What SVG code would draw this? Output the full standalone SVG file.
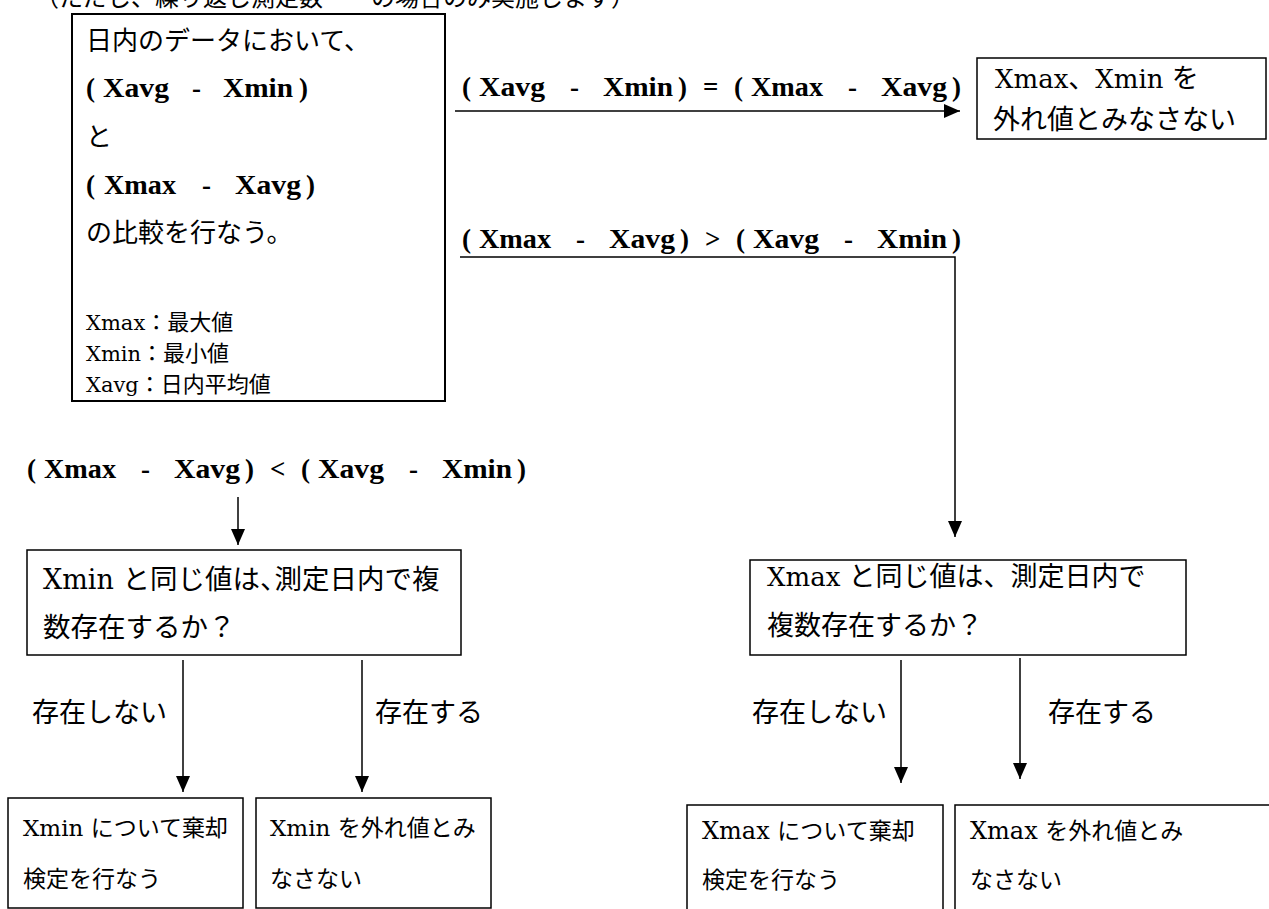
<svg xmlns="http://www.w3.org/2000/svg" width="1269" height="909" viewBox="0 0 1269 909">
<defs>
<style>
.box{fill:#fff;stroke:#000;stroke-width:1.5}
.box2{fill:#fff;stroke:#000;stroke-width:2}
.jp{font-family:"Noto Sans CJK JP","Noto Sans",sans-serif;font-size:24px;fill:#000}
.c22{font-size:22px}
.c23{font-size:23px}
.c26{font-size:26px}
.c27{font-size:27px}
.c275{font-size:27.5px}
.l{font-family:"DejaVu Serif","Liberation Serif",serif}
.b{font-family:"Liberation Serif","DejaVu Serif",serif;font-weight:bold;font-size:27px;fill:#000}
.conn{stroke:#000;stroke-width:1.5;fill:none}
</style>
<marker id="ah" markerUnits="userSpaceOnUse" markerWidth="16" markerHeight="14" refX="16" refY="7" orient="auto">
<path d="M0,0 L16,7 L0,14 z" fill="#000"/>
</marker>
</defs>
<rect width="1269" height="909" fill="#fff"/>

<text class="jp" x="35" y="6">（ただし、繰り返し測定数　　の場合のみ実施します）</text>

<g id="start">
<rect class="box2" x="72" y="14" width="373" height="387"/>
<text class="jp c26" x="86" y="50">日内のデータにおいて、</text>
<text class="b" y="97"><tspan x="86">(</tspan><tspan x="103" textLength="66" lengthAdjust="spacingAndGlyphs">Xavg</tspan><tspan x="192">-</tspan><tspan x="223" textLength="70" lengthAdjust="spacingAndGlyphs">Xmin</tspan><tspan x="299">)</tspan></text>
<text class="jp c26" x="86" y="146">と</text>
<text class="b" y="194"><tspan x="86">(</tspan><tspan x="104" textLength="72" lengthAdjust="spacingAndGlyphs">Xmax</tspan><tspan x="202">-</tspan><tspan x="235" textLength="66" lengthAdjust="spacingAndGlyphs">Xavg</tspan><tspan x="306">)</tspan></text>
<text class="jp c26" x="86" y="242">の比較を行なう。</text>
<text class="jp c22" x="86" y="330"><tspan class="l" font-size="21">Xmax</tspan>：最大値</text>
<text class="jp c22" x="86" y="361"><tspan class="l" font-size="21">Xmin</tspan>：最小値</text>
<text class="jp c22" x="86" y="392"><tspan class="l" font-size="21">Xavg</tspan>：日内平均値</text>
</g>

<g id="equal">
<rect class="box" x="977" y="58" width="289" height="81"/>
<text class="jp c27" x="995" y="88"><tspan class="l" font-size="26">Xmax</tspan>、<tspan class="l" font-size="26">Xmin </tspan>を</text>
<text class="jp c27" x="993" y="129">外れ値とみなさない</text>
</g>

<g id="minq">
<rect class="box" x="27" y="550" width="434" height="105"/>
<text class="jp c275" x="43" y="589"><tspan class="l" font-size="27">Xmin </tspan>と同じ値は、<tspan dx="-13">測定日内で複</tspan></text>
<text class="jp c275" x="43" y="637">数存在するか？</text>
</g>

<g id="maxq">
<rect class="box" x="750" y="560" width="436" height="95"/>
<text class="jp c27" x="767" y="586"><tspan class="l" font-size="26">Xmax  </tspan>と同じ値は、測定日内で</text>
<text class="jp c27" x="767" y="635">複数存在するか？</text>
</g>

<g id="minrej">
<rect class="box" x="8" y="798" width="235" height="110"/>
<text class="jp c23" x="23" y="836"><tspan class="l" font-size="23">Xmin  </tspan>について棄却</text>
<text class="jp c23" x="23" y="887">検定を行なう</text>
</g>

<g id="minok">
<rect class="box" x="256" y="798" width="235" height="110"/>
<text class="jp c23" x="270" y="836"><tspan class="l" font-size="23">Xmin  </tspan>を外れ値とみ</text>
<text class="jp c23" x="270" y="887">なさない</text>
</g>

<g id="maxrej">
<rect class="box" x="687" y="805" width="256" height="120"/>
<text class="jp c23" x="702" y="839"><tspan class="l" font-size="24">Xmax </tspan>について棄却</text>
<text class="jp c23" x="702" y="888">検定を行なう</text>
</g>

<g id="maxok">
<rect class="box" x="955" y="805" width="330" height="120"/>
<text class="jp c23" x="970" y="839"><tspan class="l" font-size="24">Xmax </tspan>を外れ値とみ</text>
<text class="jp c23" x="970" y="888">なさない</text>
</g>

<g id="connectors">
<path class="conn" d="M455,111 H960" marker-end="url(#ah)"/>
<path class="conn" d="M460,257 H955 V537" marker-end="url(#ah)"/>
<path class="conn" d="M238,497 V545" marker-end="url(#ah)"/>
<path class="conn" d="M183,660 V792" marker-end="url(#ah)"/>
<path class="conn" d="M362,660 V792" marker-end="url(#ah)"/>
<path class="conn" d="M901,660 V783" marker-end="url(#ah)"/>
<path class="conn" d="M1020,658 V779" marker-end="url(#ah)"/>
<text class="b" y="96"><tspan x="462">(</tspan><tspan x="479" textLength="66" lengthAdjust="spacingAndGlyphs">Xavg</tspan><tspan x="570">-</tspan><tspan x="603" textLength="70" lengthAdjust="spacingAndGlyphs">Xmin</tspan><tspan x="678">)</tspan><tspan x="703">=</tspan><tspan x="734">(</tspan><tspan x="751" textLength="72" lengthAdjust="spacingAndGlyphs">Xmax</tspan><tspan x="848">-</tspan><tspan x="881" textLength="66" lengthAdjust="spacingAndGlyphs">Xavg</tspan><tspan x="952">)</tspan></text>
<text class="b" y="248"><tspan x="462">(</tspan><tspan x="479" textLength="72" lengthAdjust="spacingAndGlyphs">Xmax</tspan><tspan x="576">-</tspan><tspan x="609" textLength="66" lengthAdjust="spacingAndGlyphs">Xavg</tspan><tspan x="680">)</tspan><tspan x="705">&gt;</tspan><tspan x="736">(</tspan><tspan x="753" textLength="66" lengthAdjust="spacingAndGlyphs">Xavg</tspan><tspan x="844">-</tspan><tspan x="877" textLength="70" lengthAdjust="spacingAndGlyphs">Xmin</tspan><tspan x="952">)</tspan></text>
<text class="b" y="478"><tspan x="27">(</tspan><tspan x="44" textLength="72" lengthAdjust="spacingAndGlyphs">Xmax</tspan><tspan x="141">-</tspan><tspan x="174" textLength="66" lengthAdjust="spacingAndGlyphs">Xavg</tspan><tspan x="245">)</tspan><tspan x="270">&lt;</tspan><tspan x="301">(</tspan><tspan x="318" textLength="66" lengthAdjust="spacingAndGlyphs">Xavg</tspan><tspan x="409">-</tspan><tspan x="442" textLength="70" lengthAdjust="spacingAndGlyphs">Xmin</tspan><tspan x="517">)</tspan></text>
<text class="jp c27" x="32" y="722">存在しない</text>
<text class="jp c27" x="375" y="722">存在する</text>
<text class="jp c27" x="752" y="722">存在しない</text>
<text class="jp c27" x="1048" y="722">存在する</text>
</g>
</svg>
